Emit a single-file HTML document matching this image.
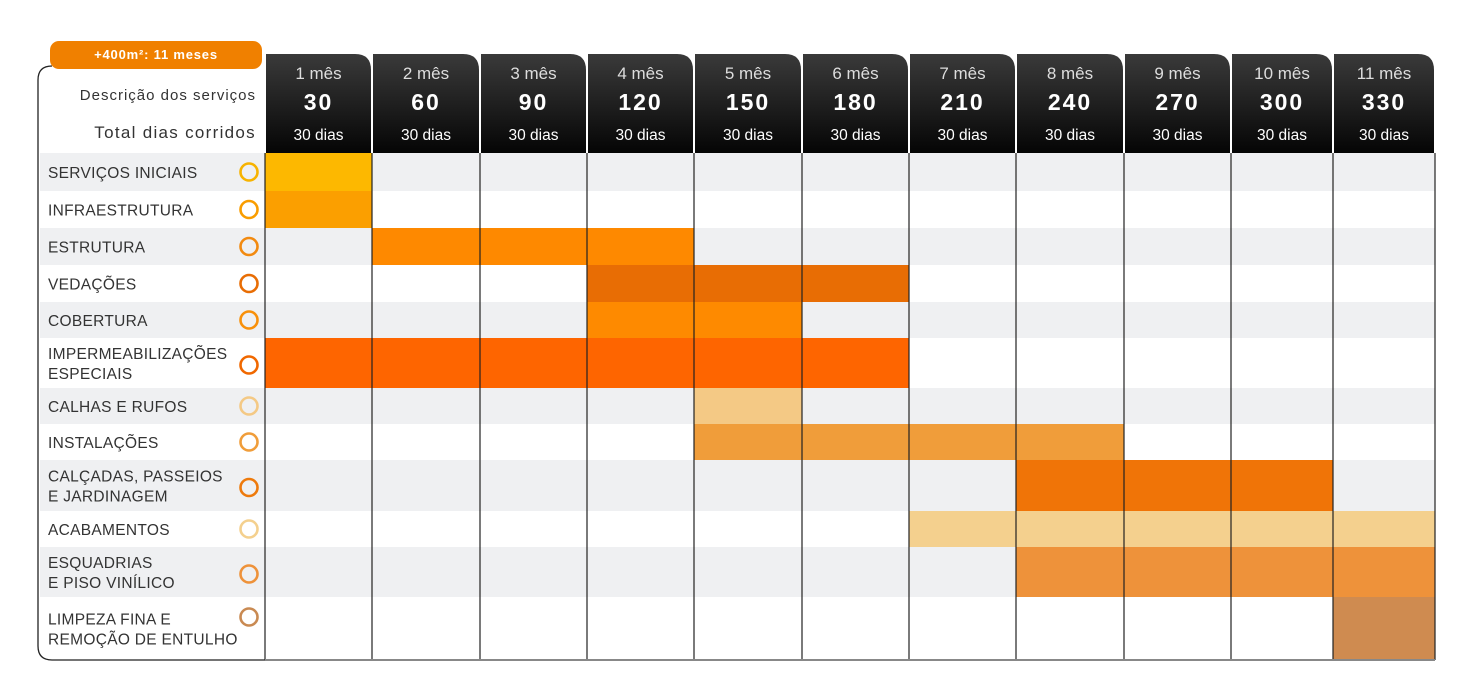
<!DOCTYPE html>
<html><head><meta charset="utf-8"><style>
html,body{margin:0;padding:0;background:#fff;width:1476px;height:695px;overflow:hidden}
svg{display:block;font-family:"Liberation Sans",sans-serif}
</style></head><body>
<svg id="chart" width="1476" height="695" viewBox="0 0 1476 695"></svg>
<script>
const months = ["1 mês","2 mês","3 mês","4 mês","5 mês","6 mês","7 mês","8 mês","9 mês","10 mês","11 mês"];
const totals = [30,60,90,120,150,180,210,240,270,300,330];
const durations = ["30 dias","30 dias","30 dias","30 dias","30 dias","30 dias","30 dias","30 dias","30 dias","30 dias","30 dias"];
const tasks = [["SERVIÇOS INICIAIS"],["INFRAESTRUTURA"],["ESTRUTURA"],["VEDAÇÕES"],["COBERTURA"],["IMPERMEABILIZAÇÕES","ESPECIAIS"],["CALHAS E RUFOS"],["INSTALAÇÕES"],["CALÇADAS, PASSEIOS","E JARDINAGEM"],["ACABAMENTOS"],["ESQUADRIAS","E PISO VINÍLICO"],["LIMPEZA FINA E","REMOÇÃO DE ENTULHO"]];
const startMonth = [1,1,2,4,4,1,5,5,8,7,8,11];
const endMonth = [1,1,4,6,5,6,5,8,10,11,11,11];
const barColors = ["#fdb800","#fb9f00","#fe8900","#e86d04","#fe8a00","#fe6500","#f4c985","#f09d3a","#f07407","#f4d08e","#ee923a","#cf8b50"];
const circleColors = ["#f7b300","#f99d00","#f28a10","#e86d04","#f8900a","#f06800","#f4c985","#f09d3a","#ee7a0c","#f4d08e","#ee923a","#c98a52"];

const svg = document.getElementById('chart');
const NS = "http://www.w3.org/2000/svg";
function mk(tag, attrs, parent){const e=document.createElementNS(NS,tag);for(const k in attrs)e.setAttribute(k,attrs[k]);(parent||svg).appendChild(e);return e;}
const colX = [265,372,480,587,694,802,909,1016,1124,1231,1333,1435];
const rowY = [153,191,228,265,302,338,388,424,460,511,547,597,660];
function xOf(m){return colX[m];}
function yOf(r){return rowY[r];}

// row stripes
for(let r=0;r<tasks.length;r++){
  const s=mk('rect',{x:40,y:yOf(r),width:1395,height:yOf(r+1)-yOf(r),fill:(r%2===0)?'#eff0f2':'#ffffff'});
  
  
}
// bars
for(let r=0;r<tasks.length;r++){
  const b=mk('rect',{x:xOf(startMonth[r]-1),y:yOf(r),width:xOf(endMonth[r])-xOf(startMonth[r]-1),height:yOf(r+1)-yOf(r),fill:barColors[r]});
  
  
}
// vertical lines
for(let i=0;i<colX.length;i++){
  const l=mk('line',{x1:colX[i],y1:153,x2:colX[i],y2:660,stroke:'#222','stroke-width':1.2});
  
  
}
// left panel border
const pb=mk('path',{d:'M265 660 L52 660 Q38 660 38 646 L38 80 Q38 66 52 66',fill:'none',stroke:'#222','stroke-width':1.3});


const bl=mk('line',{x1:265,y1:660,x2:1435,y2:660,stroke:'#888','stroke-width':2});


// badge
const bg=mk('rect',{x:50,y:41,width:212,height:28,rx:9,fill:'#f08000'});


const bt=mk('text',{x:156,y:59,'text-anchor':'middle',fill:'#fff','font-size':13,'font-weight':'bold','letter-spacing':'0.8'});
bt.textContent='+400m²: 11 meses';


// header labels
const h1=mk('text',{x:256,y:100,'text-anchor':'end',fill:'#333','font-size':15,'letter-spacing':'1'});
h1.textContent='Descrição dos serviços';


const h2=mk('text',{x:256,y:138,'text-anchor':'end',fill:'#333','font-size':17,'letter-spacing':'1.3'});
h2.textContent='Total dias corridos';


// month tabs
const defs=mk('defs',{});
const g=mk('linearGradient',{id:'tabg',x1:0,y1:0,x2:0,y2:1},defs);
mk('stop',{offset:0,'stop-color':'#3a3a3a'},g);mk('stop',{offset:1,'stop-color':'#050505'},g);
for(let i=0;i<months.length;i++){
  const x0=xOf(i)+1,x1=xOf(i+1)-1,y0=54,y1=153;
  const t=mk('path',{d:`M${x0} ${y0} L${x1-16} ${y0} Q${x1} ${y0} ${x1} ${y0+16} L${x1} ${y1} L${x0} ${y1} Z`,fill:'url(#tabg)'});
  
  
  const cx=(x0+x1)/2;
  const a=mk('text',{x:cx,y:79,'text-anchor':'middle',fill:'#ddd','font-size':17});
  a.textContent=months[i];
  
  
  const b=mk('text',{x:cx,y:110,'text-anchor':'middle',fill:'#fff','font-size':23,'font-weight':'bold','letter-spacing':'2'});
  b.textContent=totals[i];
  
  
  const c=mk('text',{x:cx,y:140,'text-anchor':'middle',fill:'#fff','font-size':15.5});
  c.textContent=durations[i];
  
  
}
// task labels & circles
for(let r=0;r<tasks.length;r++){
  const y0=yOf(r),y1=yOf(r+1),mid=(y0+y1)/2;
  const lines=tasks[r];
  lines.forEach((ln,k)=>{
    const ty = lines.length===1 ? mid+6 : mid-4+k*20;
    const t=mk('text',{x:48,y:ty,fill:'#333','font-size':15.5,'letter-spacing':'0.3'});
    t.textContent=ln;
    
    
  });
  const cy = lines.length===1 ? mid : (r===11? y0+20 : mid+2);
  const c=mk('circle',{cx:249,cy:cy,r:8.5,fill:'none',stroke:circleColors[r],'stroke-width':2.6});
  
  
}
</script>
</body></html>
